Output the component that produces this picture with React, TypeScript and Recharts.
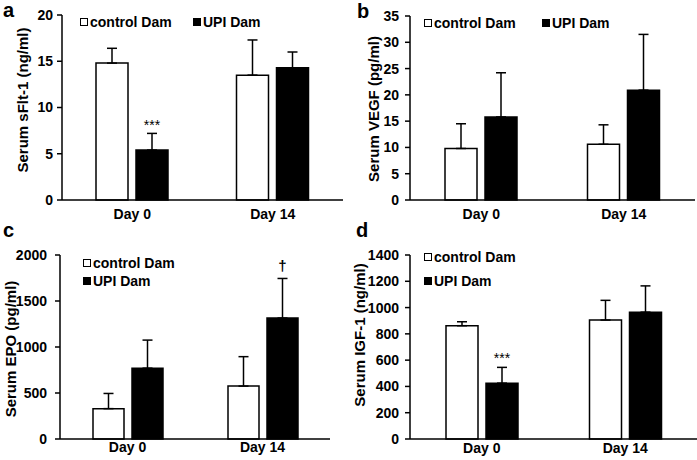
import React from "react";
import { BarChart, Bar, XAxis, YAxis, ErrorBar, LabelList } from "recharts";

const days = ["Day 0", "Day 14"];

// a: serum sFlt-1 (ng/ml)
const sfltControl = [14.8, 13.5];
const sfltControlSd = [1.6, 3.8];
const sfltUpi = [5.4, 14.3];
const sfltUpiSd = [1.8, 1.7];
const sfltSig = ["***", ""];

// b: serum VEGF (pg/ml)
const vegfControl = [9.8, 10.6];
const vegfControlSd = [4.7, 3.7];
const vegfUpi = [15.8, 20.9];
const vegfUpiSd = [8.4, 10.6];
const vegfSig = ["", ""];

// c: serum EPO (pg/ml)
const epoControl = [330, 575];
const epoControlSd = [165, 320];
const epoUpi = [770, 1315];
const epoUpiSd = [305, 430];
const epoSig = ["", "†"];

// d: serum IGF-1 (ng/ml)
const igfControl = [862, 905];
const igfControlSd = [30, 150];
const igfUpi = [425, 965];
const igfUpiSd = [120, 200];
const igfSig = ["***", ""];

const sfltTicks = [0, 5, 10, 15, 20];
const vegfTicks = [0, 5, 10, 15, 20, 25, 30, 35];
const epoTicks = [0, 500, 1000, 1500, 2000];
const igfTicks = [0, 200, 400, 600, 800, 1000, 1200, 1400];

const FONT = "'Liberation Sans', Arial, Helvetica, sans-serif";

function makeRows(ctl: number[], ctlSd: number[], upi: number[], upiSd: number[], sig: string[]) {
  return days.map((day, i) => ({
    day,
    control: ctl[i],
    controlErr: [0, ctlSd[i]],
    upi: upi[i],
    upiErr: [0, upiSd[i]],
    sig: sig[i],
  }));
}

type Row = ReturnType<typeof makeRows>[number];

type Spec = {
  letter: string;
  rows: Row[];
  ticks: number[];
  yLabel: string;
  left: number;
  top: number;
  width: number;
  height: number;
  plotTop: number;
  axisY: number;
  axisX: number;
  right: number;
  barSize: number;
  yTickMargin: number;
  xTickMargin: number;
  label: { cx: number; cy: number };
  letterPos: { x: number; y: number };
  legend: { x: number; y: number }[];
  sigGap: number;
};

const specs: Spec[] = [
  {
    letter: "a",
    rows: makeRows(sfltControl, sfltControlSd, sfltUpi, sfltUpiSd, sfltSig),
    ticks: sfltTicks,
    yLabel: "Serum sFlt-1 (ng/ml)",
    left: 0, top: 0, width: 350, height: 230,
    plotTop: 15, axisY: 200, axisX: 62, right: 7, barSize: 32,
    yTickMargin: 4, xTickMargin: 9,
    label: { cx: 22, cy: 100 },
    letterPos: { x: 3, y: 0 },
    legend: [{ x: 80, y: 22 }, { x: 193, y: 22 }],
    sigGap: 3,
  },
  {
    letter: "b",
    rows: makeRows(vegfControl, vegfControlSd, vegfUpi, vegfUpiSd, vegfSig),
    ticks: vegfTicks,
    yLabel: "Serum VEGF (pg/ml)",
    left: 350, top: 0, width: 347, height: 230,
    plotTop: 16, axisY: 200, axisX: 60, right: 2, barSize: 32,
    yTickMargin: 6, xTickMargin: 9,
    label: { cx: 23, cy: 109 },
    letterPos: { x: 7, y: 1 },
    legend: [{ x: 74, y: 23 }, { x: 192, y: 23 }],
    sigGap: 3,
  },
  {
    letter: "c",
    rows: makeRows(epoControl, epoControlSd, epoUpi, epoUpiSd, epoSig),
    ticks: epoTicks,
    yLabel: "Serum EPO (pg/ml)",
    left: 0, top: 230, width: 350, height: 230,
    plotTop: 25, axisY: 209, axisX: 60, right: 20, barSize: 31,
    yTickMargin: 8, xTickMargin: 3,
    label: { cx: 10, cy: 119 },
    letterPos: { x: 3, y: -10 },
    legend: [{ x: 83, y: 33 }, { x: 83, y: 51 }],
    sigGap: 7,
  },
  {
    letter: "d",
    rows: makeRows(igfControl, igfControlSd, igfUpi, igfUpiSd, igfSig),
    ticks: igfTicks,
    yLabel: "Serum IGF-1 (ng/ml)",
    left: 350, top: 230, width: 347, height: 230,
    plotTop: 25, axisY: 209, axisX: 60, right: 0, barSize: 32,
    yTickMargin: 6, xTickMargin: 4,
    label: { cx: 9, cy: 105 },
    letterPos: { x: 6, y: -10 },
    legend: [{ x: 74, y: 27 }, { x: 74, y: 51 }],
    sigGap: 4,
  },
];

const legendItems = [
  { name: "control Dam", fill: "#fff" },
  { name: "UPI Dam", fill: "#000" },
];

const tickStyle = { fill: "#000", fontSize: 14, fontWeight: "bold", fontFamily: FONT };

function Panel({ spec }: { spec: Spec }) {
  const maxY = spec.ticks[spec.ticks.length - 1];
  const sigContent = (p: any) => {
    const row = spec.rows.find((r) => r.sig && r.sig === p.value);
    if (!row) return null;
    const scale = Number(p.height) / row.upi;
    const errTop = Number(p.y) - row.upiErr[1] * scale;
    const isDagger = row.sig === "†";
    return (
      <text
        x={Number(p.x) + Number(p.width) / 2}
        y={errTop - spec.sigGap}
        textAnchor="middle"
        fill="#000"
        fontSize={isDagger ? 15 : 14}
        fontWeight={isDagger ? "bold" : "normal"}
        fontFamily={FONT}
      >
        {row.sig}
      </text>
    );
  };

  return (
    <div style={{ position: "absolute", left: spec.left, top: spec.top, width: spec.width, height: spec.height }}>
      <BarChart
        width={spec.width}
        height={spec.height}
        data={spec.rows}
        margin={{ top: spec.plotTop, right: spec.right, bottom: 0, left: 0 }}
        barSize={spec.barSize}
        barGap={8}
      >
        <XAxis
          dataKey="day"
          height={spec.height - spec.axisY}
          axisLine={{ stroke: "#000", strokeWidth: 1.5 }}
          tickLine={false}
          tickSize={0}
          tickMargin={spec.xTickMargin}
          tick={tickStyle}
        />
        <YAxis
          domain={[0, maxY]}
          ticks={spec.ticks}
          interval={0}
          width={spec.axisX}
          axisLine={{ stroke: "#000", strokeWidth: 1.5 }}
          tickLine={{ stroke: "#000", strokeWidth: 1.5 }}
          tickSize={5}
          tickMargin={spec.yTickMargin}
          tick={tickStyle}
        />
        <Bar dataKey="control" fill="#fff" stroke="#000" strokeWidth={1.5} isAnimationActive={false}>
          <ErrorBar dataKey="controlErr" direction="y" width={5} stroke="#000" strokeWidth={1.5} />
        </Bar>
        <Bar dataKey="upi" fill="#000" stroke="#000" strokeWidth={1.5} isAnimationActive={false}>
          <ErrorBar dataKey="upiErr" direction="y" width={5} stroke="#000" strokeWidth={1.5} />
          <LabelList dataKey="sig" content={sigContent} />
        </Bar>
      </BarChart>

      <div
        style={{
          position: "absolute",
          left: spec.letterPos.x,
          top: spec.letterPos.y,
          fontSize: 20,
          lineHeight: 1,
          fontWeight: "bold",
          fontFamily: FONT,
        }}
      >
        {spec.letter}
      </div>

      <div
        style={{
          position: "absolute",
          left: spec.label.cx,
          top: spec.label.cy,
          transform: "translate(-50%, -50%) rotate(-90deg)",
          whiteSpace: "nowrap",
          fontSize: 15,
          fontWeight: "bold",
          fontFamily: FONT,
          lineHeight: 1,
        }}
      >
        {spec.yLabel}
      </div>

      {legendItems.map((item, i) => (
        <div
          key={item.name}
          style={{
            position: "absolute",
            left: spec.legend[i].x,
            top: spec.legend[i].y - 8,
            height: 16,
            display: "flex",
            alignItems: "center",
            fontSize: 14,
            fontWeight: "bold",
            fontFamily: FONT,
            whiteSpace: "nowrap",
          }}
        >
          <span
            style={{
              display: "inline-block",
              width: 8,
              height: 8,
              boxSizing: "border-box",
              border: "1.2px solid #000",
              background: item.fill,
              marginRight: 2,
            }}
          />
          {item.name}
        </div>
      ))}
    </div>
  );
}

export default function App() {
  return (
    <div style={{ position: "absolute", left: 0, top: 0, width: 697, height: 460, background: "#fff", overflow: "hidden" }}>
      {specs.map((s) => (
        <Panel key={s.letter} spec={s} />
      ))}
    </div>
  );
}
